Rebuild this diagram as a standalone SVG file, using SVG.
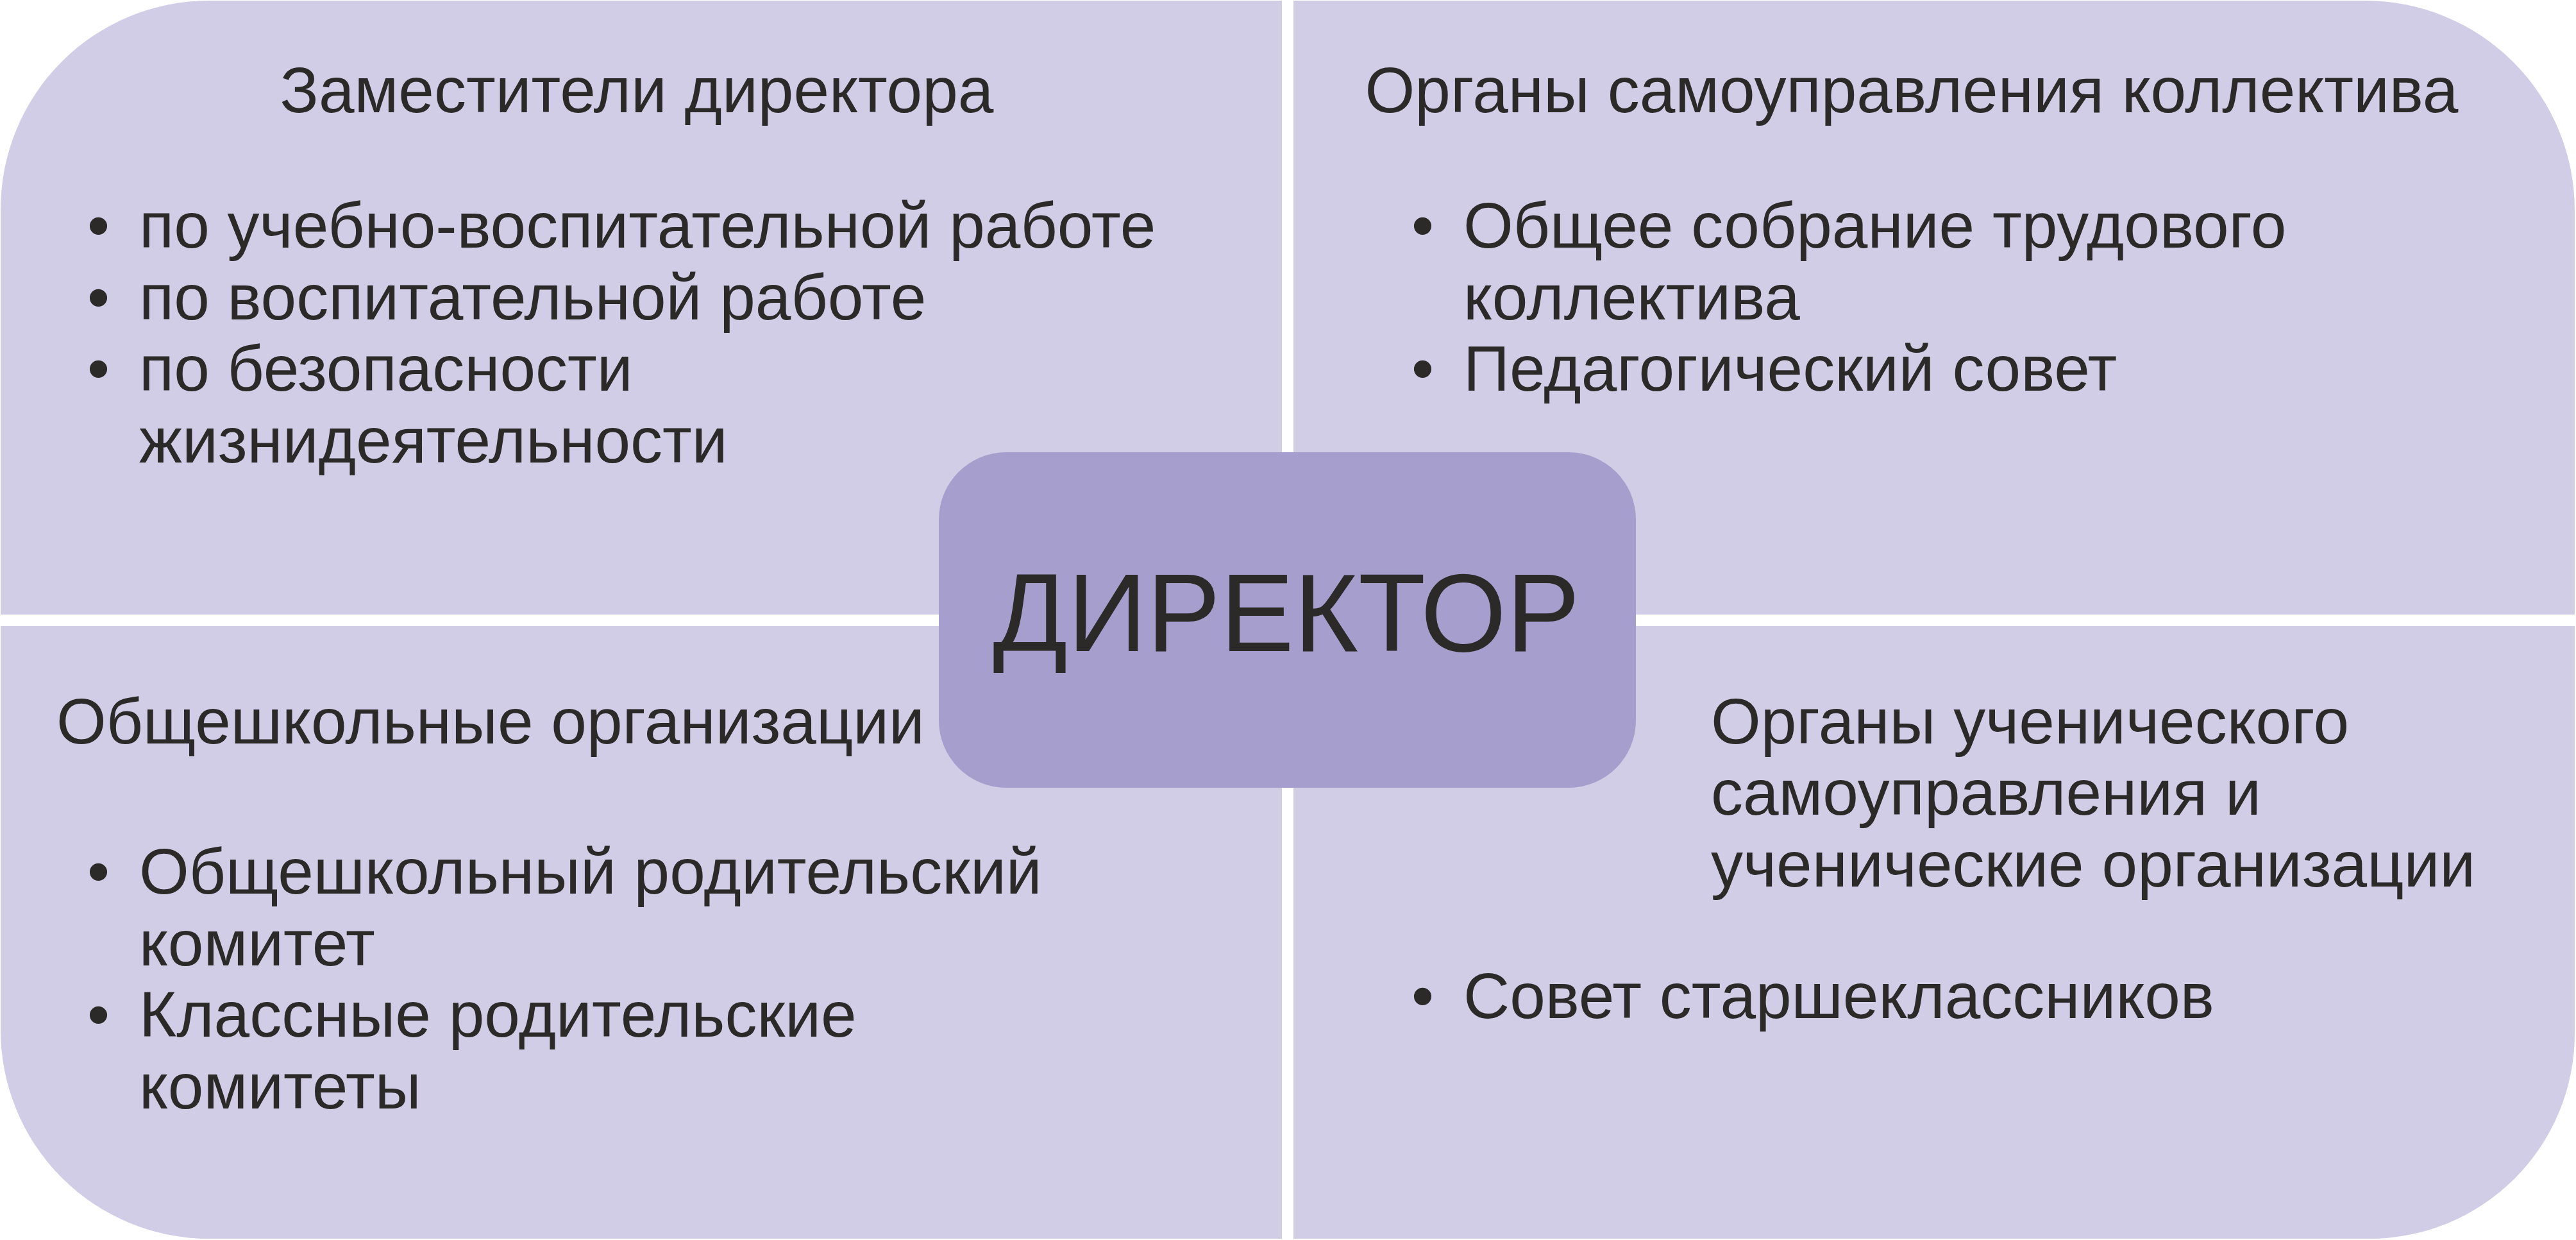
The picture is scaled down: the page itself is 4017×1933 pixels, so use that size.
<svg xmlns="http://www.w3.org/2000/svg" width="4017" height="1933" viewBox="0 0 4017 1933">
<style>
.q{fill:#D1CDE6}
.d{fill:#A69FCD}
text{font-family:"Liberation Sans",Arial,sans-serif;fill:#2B2A29}
.t{font-size:100px}
.b{font-size:100px}
.m{text-anchor:middle}
.big{font-size:172px;text-anchor:middle}
</style>
<rect x="0" y="0" width="4017" height="1933" fill="#FFFFFF"/>
<g id="deputies">
<path class="q" d="M1,326 A325,325 0 0 1 326,1 L1999,1 L1999,958 L1,958 Z"/>
<text class="t m" x="993" y="175">Заместители директора</text>
<text class="b" x="136" y="386">•</text><text class="b" x="217" y="386">по учебно-воспитательной работе</text>
<text class="b" x="136" y="498">•</text><text class="b" x="217" y="498">по воспитательной работе</text>
<text class="b" x="136" y="609">•</text><text class="b" x="217" y="609">по безопасности</text>
<text class="b" x="217" y="721">жизнидеятельности</text>
</g>
<g id="staff-bodies">
<path class="q" d="M2017,1 L3688,1 A327,327 0 0 1 4015,328 L4015,958 L2017,958 Z"/>
<text class="t m" x="2981" y="175">Органы самоуправления коллектива</text>
<text class="b" x="2201" y="386">•</text><text class="b" x="2282" y="386">Общее собрание трудового</text>
<text class="b" x="2282" y="498">коллектива</text>
<text class="b" x="2201" y="609">•</text><text class="b" x="2282" y="609">Педагогический совет</text>
</g>
<g id="school-orgs">
<path class="q" d="M1,976 L1999,976 L1999,1931 L326,1931 A325,325 0 0 1 1,1606 Z"/>
<text class="t m" x="765" y="1159">Общешкольные организации</text>
<text class="b" x="136" y="1393">•</text><text class="b" x="217" y="1393">Общешкольный родительский</text>
<text class="b" x="217" y="1505">комитет</text>
<text class="b" x="136" y="1616">•</text><text class="b" x="217" y="1616">Классные родительские</text>
<text class="b" x="217" y="1728">комитеты</text>
</g>
<g id="student-bodies">
<path class="q" d="M2017,976 L4015,976 L4015,1611 A320,320 0 0 1 3695,1931 L2017,1931 Z"/>
<text class="t" x="2668" y="1159">Органы ученического</text>
<text class="t" x="2668" y="1270">самоуправления и</text>
<text class="t" x="2668" y="1382">ученические организации</text>
<text class="b" x="2201" y="1587">•</text><text class="b" x="2282" y="1587">Совет старшеклассников</text>
</g>
<g id="director">
<rect class="d" x="1464" y="705" width="1087" height="523" rx="105" ry="105"/>
<text class="big" x="2006" y="1015">ДИРЕКТОР</text>
</g>
<g id="connectors"/>
</svg>
